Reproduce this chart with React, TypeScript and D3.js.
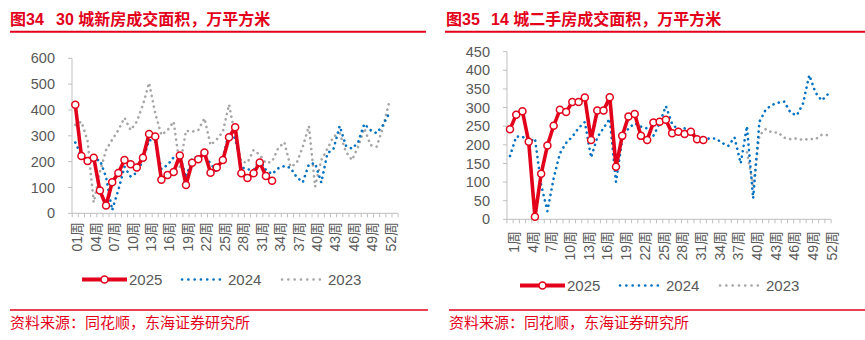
import React from "react";
import * as d3 from "d3";

// ---------- data ----------
const weeks = d3.range(1, 53);
const labelWeeks = [1, 4, 7, 10, 13, 16, 19, 22, 25, 28, 31, 34, 37, 40, 43, 46, 49, 52];
const leftXLabels = ["01周", "04周", "07周", "10周", "13周", "16周", "19周", "22周", "25周", "28周", "31周", "34周", "37周", "40周", "43周", "46周", "49周", "52周"];
const rightXLabels = ["1周", "4周", "7周", "10周", "13周", "16周", "19周", "22周", "25周", "28周", "31周", "34周", "37周", "40周", "43周", "46周", "49周", "52周"];
const leftYTicks = [0, 100, 200, 300, 400, 500, 600];
const rightYTicks = [0, 50, 100, 150, 200, 250, 300, 350, 400, 450];
const seriesNames = ["2025", "2024", "2023"];

const left2025 = [420, 222, 202, 215, 88, 30, 120, 156, 206, 190, 177, 215, 307, 297, 130, 148, 160, 224, 110, 196, 209, 235, 157, 177, 206, 294, 333, 155, 137, 155, 197, 144, 126];
const left2024 = [274, 222, 203, 206, 206, 140, 12, 90, 180, 142, 157, 206, 284, 277, 171, 187, 217, 225, 138, 213, 219, 222, 193, 161, 215, 312, 290, 178, 170, 168, 206, 168, 152, 174, 183, 176, 140, 120, 190, 194, 119, 232, 250, 338, 262, 250, 275, 346, 322, 310, 340, 385];
const left2023 = [342, 355, 280, 42, 160, 245, 285, 322, 370, 322, 355, 420, 505, 387, 303, 322, 355, 180, 320, 316, 322, 368, 264, 286, 316, 421, 300, 200, 196, 245, 226, 194, 200, 252, 275, 180, 194, 258, 338, 103, 206, 250, 297, 310, 239, 206, 258, 329, 264, 258, 329, 426];

const right2025 = [242, 281, 290, 208, 7, 122, 198, 251, 294, 288, 315, 315, 327, 213, 292, 292, 328, 141, 224, 276, 283, 224, 213, 260, 262, 267, 231, 235, 229, 235, 215, 213];
const right2024 = [170, 222, 222, 208, 217, 92, 22, 110, 177, 205, 222, 245, 261, 166, 220, 245, 270, 100, 215, 244, 258, 249, 244, 224, 258, 304, 256, 240, 244, 238, 220, 215, 217, 217, 205, 197, 220, 150, 250, 56, 262, 294, 307, 313, 316, 286, 279, 311, 387, 340, 319, 336];
const right2023Start = 39;
const right2023 = [180, 90, 225, 242, 233, 233, 219, 215, 217, 213, 216, 215, 227, 226];

// ---------- styles ----------
const RED = "#e2001a";
const BLUE = "#0070c0";
const GRAY = "#a6a6a6";
const TEXT = "#595959";
const AXIS = "#bfbfbf";
const FONT = "'Liberation Sans', Arial, 'Noto Sans CJK SC', sans-serif";

type Series = { values: number[]; start: number; color: string; kind: "main" | "dot" };

type PanelCfg = {
  titleA: string;
  titleB: string;
  titleX: number;
  titleBX: number;
  ruleX0: number;
  ruleX1: number;
  axisX0: number;
  tickEndWeek: number;
  xFirst: number;
  xLast: number;
  yBottom: number;
  yTop: number;
  yMax: number;
  yTicks: number[];
  xLabels: string[];
  labelTop: number;
  labelDx: number;
  legendY: number;
  legendX: number[];
  bottomX0: number;
  bottomX1: number;
  series: Series[];
};

function Panel({ c }: { c: PanelCfg }) {
  const x = d3.scaleLinear().domain([1, 52]).range([c.xFirst, c.xLast]);
  const y = d3.scaleLinear().domain([0, c.yMax]).range([c.yBottom, c.yTop]);
  const axisX1 = x(c.tickEndWeek + 0.5);
  const tickWeeks = d3.range(0, c.tickEndWeek + 1).map((w) => w + 0.5);

  const mk = (s: Series) =>
    d3
      .line<number>()
      .x((_, i) => x(s.start + i))
      .y((d) => y(d))(s.values) || "";

  const order = [...c.series].reverse();
  const main = c.series.find((s) => s.kind === "main")!;

  return (
    <g>
      {/* title */}
      <text x={c.titleX} y={24.5} fill={RED} fontSize={16} fontWeight="bold" fontFamily={FONT}>
        {c.titleA}
      </text>
      <text x={c.titleBX} y={24.5} fill={RED} fontSize={16} fontWeight="bold" fontFamily={FONT}>
        {c.titleB}
      </text>
      <line x1={c.ruleX0} x2={c.ruleX1} y1={31.7} y2={31.7} stroke={RED} strokeWidth={2} />

      {/* y axis */}
      <line x1={c.axisX0} x2={c.axisX0} y1={c.yTop} y2={c.yBottom} stroke={AXIS} strokeWidth={1} />
      {c.yTicks.map((t) => (
        <g key={t}>
          <line x1={c.axisX0 - 4} x2={c.axisX0} y1={y(t)} y2={y(t)} stroke={AXIS} />
          <text x={c.axisX0 - 17} y={y(t)} dy="0.35em" textAnchor="end" fill={TEXT} fontSize={14.5} fontFamily={FONT}>
            {t}
          </text>
        </g>
      ))}

      {/* x axis */}
      <line x1={c.axisX0} x2={axisX1} y1={c.yBottom} y2={c.yBottom} stroke={AXIS} strokeWidth={1} />
      {tickWeeks.map((w) => (
        <line key={w} x1={x(w)} x2={x(w)} y1={c.yBottom} y2={c.yBottom + 4} stroke={AXIS} />
      ))}
      {labelWeeks.map((w, i) => (
        <text
          key={w}
          transform={`translate(${x(w) + c.labelDx},${c.labelTop}) rotate(-90)`}
          dy="0.35em"
          textAnchor="end"
          fill={TEXT}
          fontSize={14}
          fontFamily={FONT}
        >
          {c.xLabels[i]}
        </text>
      ))}

      {/* series */}
      {order.map((s, i) =>
        s.kind === "dot" ? (
          <path key={i} d={mk(s)} fill="none" stroke={s.color} strokeWidth={2.6} strokeDasharray="0.1 5.4" strokeLinecap="round" strokeLinejoin="round" />
        ) : (
          <path key={i} d={mk(s)} fill="none" stroke={s.color} strokeWidth={3.6} strokeLinejoin="round" />
        )
      )}
      {main.values.map((v, i) => (
        <circle key={i} cx={x(main.start + i)} cy={y(v)} r={3.5} fill="#fff" stroke={RED} strokeWidth={1.5} />
      ))}

      {/* legend */}
      {c.series.map((s, i) => {
        const lx = c.legendX[i];
        return (
          <g key={i}>
            {s.kind === "main" ? (
              <>
                <line x1={lx} x2={lx + 45} y1={c.legendY} y2={c.legendY} stroke={s.color} strokeWidth={3.8} />
                <circle cx={lx + 22.5} cy={c.legendY} r={3.5} fill="#fff" stroke={s.color} strokeWidth={1.5} />
              </>
            ) : (
              <line x1={lx + 1} x2={lx + 45} y1={c.legendY} y2={c.legendY} stroke={s.color} strokeWidth={2.6} strokeDasharray="0.1 6.2" strokeLinecap="round" />
            )}
            <text x={lx + 47} y={c.legendY} dy="0.36em" fill={TEXT} fontSize={15} fontFamily={FONT}>
              {seriesNames[i]}
            </text>
          </g>
        );
      })}

      {/* source */}
      <line x1={c.bottomX0} x2={c.bottomX1} y1={310} y2={310} stroke={RED} strokeWidth={1.6} />
      <text x={c.bottomX0} y={328} fill={RED} fontSize={15} fontFamily="'Noto Sans CJK SC', sans-serif">
        资料来源：同花顺，东海证券研究所
      </text>
    </g>
  );
}

const leftCfg: PanelCfg = {
  titleA: "图34",
  titleB: "30 城新房成交面积，万平方米",
  titleX: 10,
  titleBX: 56,
  ruleX0: 10,
  ruleX1: 426,
  axisX0: 72,
  tickEndWeek: 53,
  xFirst: 75.3,
  xLast: 388.9,
  yBottom: 213.3,
  yTop: 58.3,
  yMax: 600,
  yTicks: leftYTicks,
  xLabels: leftXLabels,
  labelTop: 222,
  labelDx: 2,
  legendY: 279.5,
  legendX: [82, 181, 281],
  bottomX0: 10,
  bottomX1: 428,
  series: [
    { values: left2025, start: 1, color: RED, kind: "main" },
    { values: left2024, start: 1, color: BLUE, kind: "dot" },
    { values: left2023, start: 1, color: GRAY, kind: "dot" },
  ],
};

const rightCfg: PanelCfg = {
  titleA: "图35",
  titleB: "14 城二手房成交面积，万平方米",
  titleX: 446,
  titleBX: 491,
  ruleX0: 445,
  ruleX1: 865,
  axisX0: 507,
  tickEndWeek: 52,
  xFirst: 510,
  xLast: 828,
  yBottom: 219.3,
  yTop: 51.7,
  yMax: 450,
  yTicks: rightYTicks,
  xLabels: rightXLabels,
  labelTop: 231,
  labelDx: 4,
  legendY: 285.5,
  legendX: [520, 619, 719],
  bottomX0: 449,
  bottomX1: 865,
  series: [
    { values: right2025, start: 1, color: RED, kind: "main" },
    { values: right2024, start: 1, color: BLUE, kind: "dot" },
    { values: right2023, start: right2023Start, color: GRAY, kind: "dot" },
  ],
};

export default function App() {
  void weeks;
  return (
    <svg
      width={865}
      height={340}
      viewBox="0 0 865 340"
      style={{ position: "absolute", left: 0, top: 0, background: "#fff" }}
    >
      <rect width={865} height={340} fill="#fff" />
      <Panel c={leftCfg} />
      <Panel c={rightCfg} />
    </svg>
  );
}
